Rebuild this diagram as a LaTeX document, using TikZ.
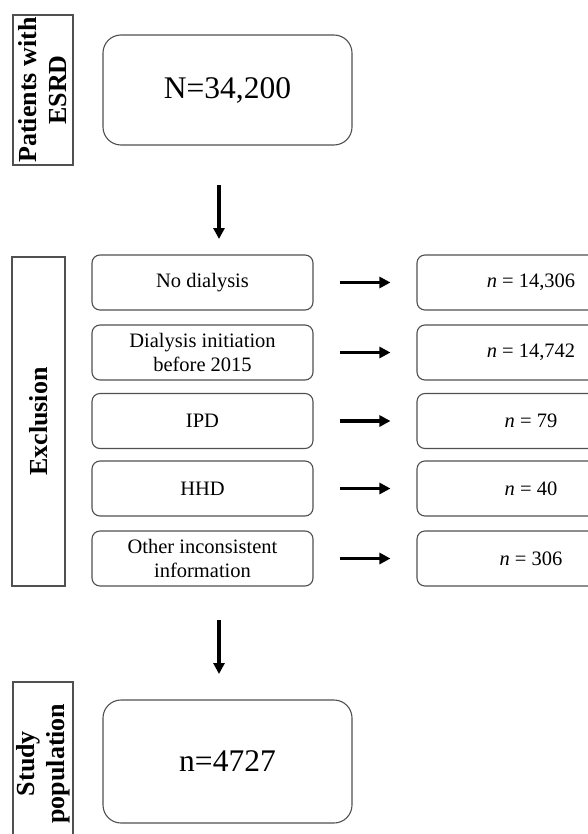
\documentclass[tikz,border=0pt]{standalone}
\usepackage{fontspec}
\setmainfont{Liberation Serif}
\usetikzlibrary{arrows.meta}
\definecolor{edge}{HTML}{505050}
\tikzset{
  lab/.style={draw=edge, line width=1.1pt, rotate=90, inner sep=0pt, align=center,
    font=\fontsize{26}{30}\selectfont\bfseries},
  bigbox/.style={draw=edge, line width=1.1pt, rounded corners=18pt, minimum width=249pt,
    inner sep=0pt, font=\fontsize{31.5}{36}\selectfont},
  exbox/.style={draw=edge, line width=1.1pt, rounded corners=8pt, minimum width=221pt,
    minimum height=55pt, inner sep=0pt, align=center, font=\fontsize{20.5}{24}\selectfont},
  nbox/.style={draw=edge, line width=1.1pt, rounded corners=8pt, minimum width=228pt,
    minimum height=55pt, inner sep=0pt, align=center, font=\fontsize{20.5}{24}\selectfont},
  arr/.style={line width=3.2pt, -{Triangle[length=11pt,width=11pt]}},
}
\begin{document}
\begin{tikzpicture}[x=1pt,y=-1pt]
\clip (0,0) rectangle (588,834);
\fill[white] (0,0) rectangle (588,834);
% top
\node[lab, minimum width=150pt, minimum height=60pt] (l1) at (43,90) {Patients with\\ESRD};
\node[bigbox, minimum height=110pt] (b0) at (227.5,90) {N=34,200};
\coordinate (a1s) at (219,185);
\coordinate (a1e) at (219,239);
\draw[arr] (a1s) -- (a1e);
% exclusion
\node[lab, minimum width=329pt, minimum height=53pt] (l2) at (38.5,421.5) {Exclusion};
\node[exbox] (e1) at (202.5,282.5) {No dialysis};
\node[exbox] (e2) at (202.5,352.5) {Dialysis initiation\\before 2015};
\node[exbox] (e3) at (202.5,421) {IPD};
\node[exbox] (e4) at (202.5,488.5) {HHD};
\node[exbox] (e5) at (202.5,558.5) {Other inconsistent\\information};
\node[nbox] (n1) at (531,282.5) {\textit{n} = 14,306};
\node[nbox] (n2) at (531,352.5) {\textit{n} = 14,742};
\node[nbox] (n3) at (531,421) {\textit{n} = 79};
\node[nbox] (n4) at (531,488.5) {\textit{n} = 40};
\node[nbox] (n5) at (531,558.5) {\textit{n} = 306};
\foreach \i in {1,...,5} {
  \draw[arr] ([xshift=26pt]e\i.east) -- ([xshift=-26pt]n\i.west);
}
\coordinate (a2s) at (219,620);
\coordinate (a2e) at (219,674);
\draw[arr] (a2s) -- (a2e);
% bottom
\node[lab, minimum width=163pt, minimum height=60pt] (l3) at (43,763.5) {Study\\population};
\node[bigbox, minimum height=123pt] (b1) at (227.5,761.5) {n=4727};
\end{tikzpicture}
\end{document}
